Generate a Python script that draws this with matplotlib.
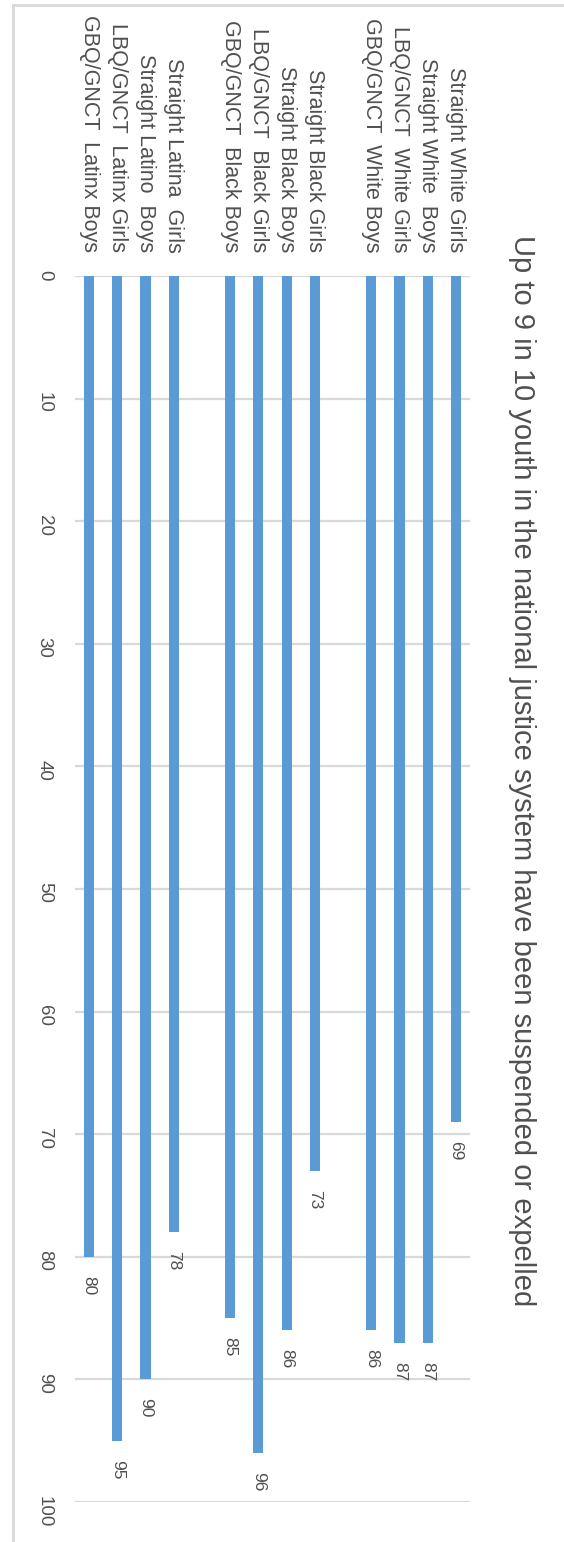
import matplotlib
matplotlib.use("Agg")
import matplotlib.pyplot as plt
from matplotlib.lines import Line2D

plt.rcParams['font.family'] = ['Liberation Sans', 'DejaVu Sans']

title = "Up to 9 in 10 youth in the national justice system have been suspended or expelled"

# groups of four, listed left to right as drawn
latinx_labels = ["GBQ/GNCT  Latinx Boys", "LBQ/GNCT  Latinx Girls",
                 "Straight Latino  Boys", "Straight Latina  Girls"]
latinx_values = [80, 95, 90, 78]
black_labels = ["GBQ/GNCT  Black Boys", "LBQ/GNCT  Black Girls",
                "Straight Black Boys", "Straight Black Girls"]
black_values = [85, 96, 86, 73]
white_labels = ["GBQ/GNCT  White Boys", "LBQ/GNCT  White Girls",
                "Straight White  Boys", "Straight White Girls"]
white_values = [86, 87, 87, 69]
value_ticks = [0, 10, 20, 30, 40, 50, 60, 70, 80, 90, 100]

labels = latinx_labels + black_labels + white_labels
values = latinx_values + black_values + white_values

blue = '#5B9BD5'
grey_text = '#505050'
grid_c = '#D9D9D9'

W, H = 564, 1542
fig = plt.figure(figsize=(W / 100, H / 100), dpi=100)
ax = fig.add_axes([75 / W, (H - 1502) / H, 395 / W, 1226 / H])

# one empty slot between each group of four
pos = [i + i // 4 for i in range(len(values))]
ax.bar(pos, values, width=0.36, color=blue, zorder=3)

for x, v in zip(pos, values):
    ax.annotate(str(v), (x, v), xytext=(0, -19), textcoords='offset pixels',
                ha='center', va='top', rotation=-90, fontsize=12.5,
                color=grey_text)

ax.set_xlim(-0.5, pos[-1] + 0.5)
ax.set_ylim(100, 0)
ax.set_yticks(value_ticks)
ax.set_yticklabels([str(t) for t in value_ticks], rotation=-90)
ax.set_xticks(pos)
ax.set_xticklabels(labels)
ax.xaxis.tick_top()
ax.tick_params(axis='x', length=0, pad=17, labelsize=15.5,
               labelcolor=grey_text, labelrotation=-90)
ax.tick_params(axis='y', length=0, pad=16, labelsize=13.5,
               labelcolor=grey_text)
ax.yaxis.grid(True, color=grid_c, lw=1.6, zorder=0)
for s in ax.spines.values():
    s.set_visible(False)

fig.text(522 / W, 0.5, title, rotation=-90, ha='center', va='center',
         fontsize=21, color=grey_text)

# thin frame along top and left edge
fig.add_artist(Line2D([13 / W, 1], [1 - 5 / H, 1 - 5 / H],
                      transform=fig.transFigure, color=grid_c, lw=2))
fig.add_artist(Line2D([13 / W, 13 / W], [0, 1 - 5 / H],
                      transform=fig.transFigure, color=grid_c, lw=2))

fig.savefig('out.png', dpi=100)
